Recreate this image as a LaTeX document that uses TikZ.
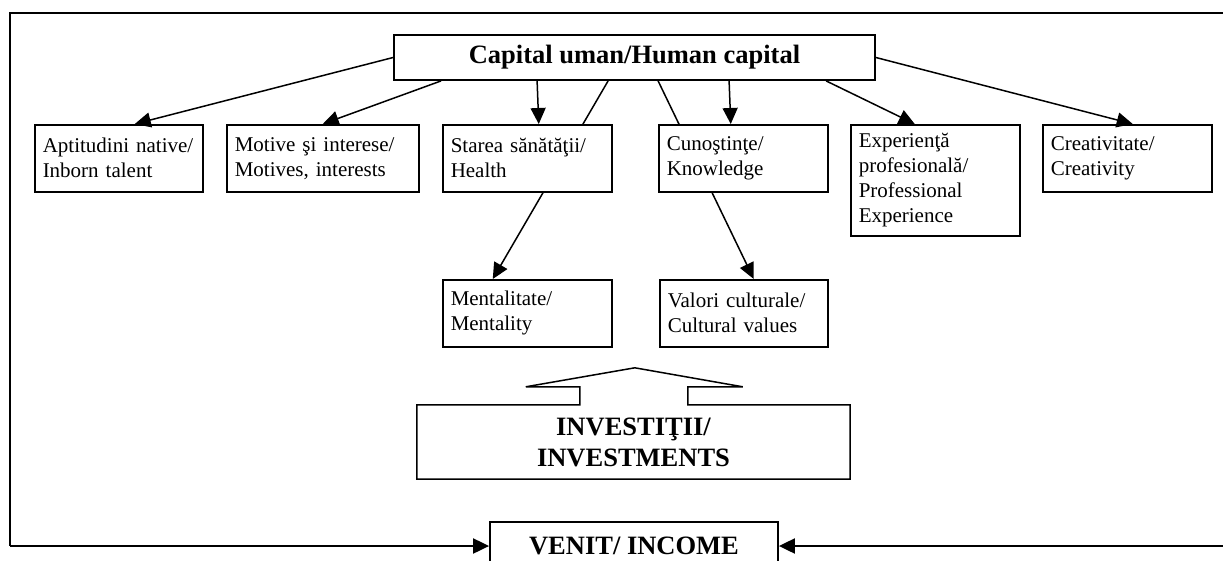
\documentclass[tikz,border=0pt]{standalone}
\usepackage{fontspec}
\setmainfont{Liberation Serif}
\usetikzlibrary{arrows.meta}

\tikzset{
  cell/.style={draw, line width=1.5pt, fill=white, align=left, anchor=north west,
    inner xsep=8pt, inner ysep=6pt, minimum height=67pt, text width=#1,
    font=\fontsize{21}{25}\selectfont},
  head/.style={draw, line width=1.8pt, fill=white, align=center,
    font=\fontsize{26.5}{31}\selectfont\bfseries},
  link/.style={line width=1.5pt, -{Triangle[length=16pt,width=15pt]}},
}

\begin{document}
\begin{tikzpicture}[x=1pt,y=-1pt]
  \fill[white] (0,0) rectangle (1223,560);
  \clip (0,0) rectangle (1223,560);

  % title
  \node[head, minimum width=481pt, minimum height=45pt] (cap) at (634.5,57.5) {Capital uman/Human capital};

  \node[cell=152pt] (apt) at (34,124) {Aptitudini native/\\Inborn talent};
  \node[cell=176pt] (mot) at (226,124) {Motive şi interese/\\Motives, interests};
  \node[cell=153pt] (men) at (442,279) {Mentalitate/\\Mentality};
  \node[cell=152pt] (val) at (659,279) {Valori culturale/\\Cultural values};

  % long arrows pass behind the middle boxes
  \draw[link] ([xshift=215pt]cap.south west) -- ([xshift=-34.5pt]men.north);
  \draw[link] ([xshift=265pt]cap.south west) -- ([xshift=10pt]val.north);

  \node[cell=153pt] (sta) at (442,124) {Starea sănătăţii/\\Health};
  \node[cell=153pt] (cun) at (658,124) {Cunoştinţe/\\Knowledge};
  \node[cell=153pt, minimum height=111pt] (exp) at (850,124) {Experienţă\\profesională/\\Professional\\Experience};
  \node[cell=153pt] (cre) at (1042,124) {Creativitate/\\Creativity};

  \draw[link] (cap.west) -- ([xshift=16pt]apt.north);
  \draw[link] ([xshift=48pt]cap.south west) -- (mot.north);
  \draw[link] ([xshift=144pt]cap.south west) -- ([xshift=11.5pt]sta.north);
  \draw[link] ([xshift=336pt]cap.south west) -- ([xshift=-12.5pt]cun.north);
  \draw[link] ([xshift=433pt]cap.south west) -- ([xshift=-20.5pt]exp.north);
  \draw[link] (cap.east) -- ([xshift=5.5pt]cre.north);

  % investments with block arrow
  \node[font=\fontsize{26.5}{31}\selectfont\bfseries, align=center,
    minimum width=433pt, minimum height=74pt] (inv) at (633.5,442) {INVESTIŢII/\\INVESTMENTS};
  \draw[line width=1.5pt] (inv.north west) -- ++(163,0) -- ++(0,-18) -- ++(-54,0)
    -- ++(109,-19) -- ++(108,19) -- ++(-55,0) -- ++(0,18) -- (inv.north east)
    -- (inv.south east) -- (inv.south west) -- cycle;

  % income and frame
  \node[head, minimum width=288pt, minimum height=48pt] (ven) at (634,546) {VENIT/ INCOME};
  \coordinate (tl) at (10,13);
  \coordinate (tr) at (1230,13);
  \coordinate (bl) at (10,546);
  \coordinate (br) at (1230,546);
  \draw[line width=2.2pt] (tr) -- (tl) -- (bl);
  \draw[link, line width=2pt] (bl) -- (ven.west);
  \draw[link, line width=2pt] (br) -- (ven.east);

\end{tikzpicture}
\end{document}
